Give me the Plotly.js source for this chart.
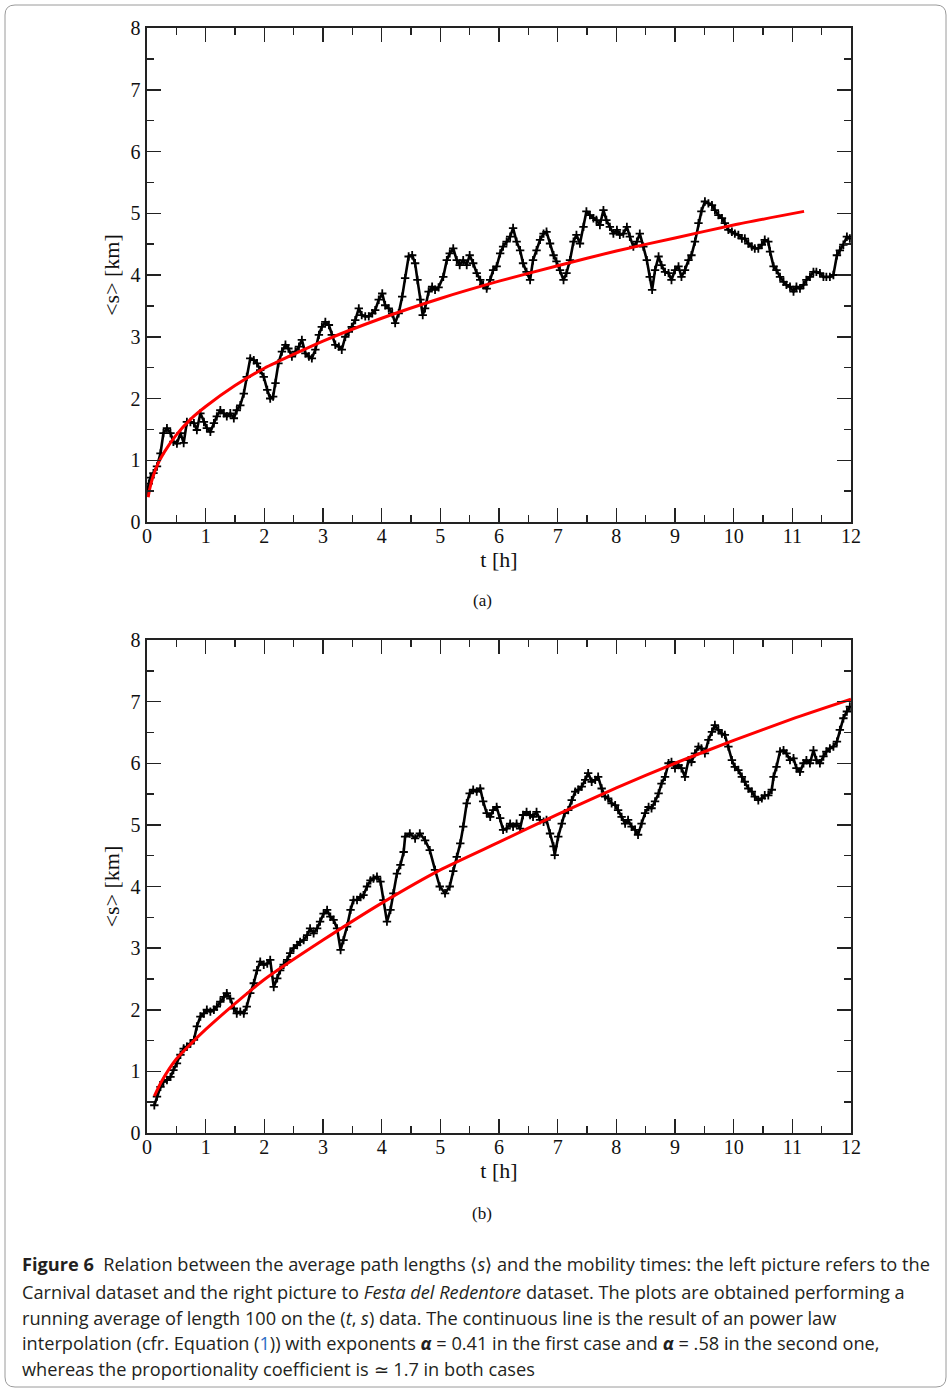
<!DOCTYPE html>
<html>
<head>
<meta charset="utf-8">
<script src="https://cdn.plot.ly/plotly-3.0.1.min.js"></script>
<style>
  html, body { margin: 0; padding: 0; background: #ffffff; }
  #chart { width: 952px; height: 1392px; }
</style>
</head>
<body>
<div id="chart"></div>
<script>
// ---------- Data ----------
// Panel (a): Carnival dataset, running average <s> vs t
const tA = [0.00,0.03,0.06,0.11,0.17,0.23,0.28,0.34,0.40,0.45,0.51,0.57,0.625,0.68,0.74,0.80,0.85,0.91,0.97,1.02,1.08,1.14,1.19,1.25,1.31,1.36,1.42,1.48,1.53,1.59,1.65,1.70,1.76,1.82,1.875,1.93,1.99,2.05,2.10,2.15,2.19,2.24,2.30,2.36,2.41,2.47,2.53,2.59,2.64,2.70,2.76,2.81,2.87,2.93,2.98,3.04,3.10,3.15,3.21,3.27,3.32,3.38,3.44,3.49,3.55,3.61,3.66,3.72,3.78,3.84,3.89,3.95,4.01,4.06,4.12,4.18,4.23,4.29,4.35,4.40,4.46,4.52,4.57,4.61,4.66,4.70,4.74,4.80,4.86,4.91,4.97,5.05,5.11,5.16,5.22,5.28,5.33,5.39,5.45,5.50,5.56,5.62,5.68,5.73,5.79,5.85,5.90,5.96,6.02,6.07,6.13,6.19,6.24,6.30,6.36,6.41,6.47,6.53,6.58,6.64,6.70,6.76,6.81,6.87,6.93,6.98,7.04,7.10,7.15,7.21,7.27,7.32,7.38,7.44,7.49,7.55,7.61,7.66,7.72,7.78,7.83,7.89,7.95,8.01,8.06,8.12,8.18,8.23,8.29,8.35,8.40,8.46,8.52,8.57,8.61,8.66,8.72,8.77,8.83,8.89,8.94,9.00,9.06,9.11,9.17,9.23,9.28,9.34,9.40,9.45,9.51,9.57,9.63,9.68,9.74,9.80,9.85,9.91,9.97,10.02,10.08,10.14,10.19,10.25,10.31,10.36,10.42,10.48,10.53,10.59,10.62,10.68,10.73,10.79,10.85,10.90,10.96,11.02,11.07,11.13,11.19,11.24,11.30,11.36,11.41,11.47,11.53,11.58,11.64,11.70,11.76,11.81,11.87,11.93,11.98];
const sA = [0.50,0.62,0.72,0.79,0.90,1.11,1.44,1.52,1.44,1.30,1.27,1.44,1.28,1.62,1.62,1.60,1.49,1.76,1.62,1.52,1.46,1.60,1.71,1.81,1.76,1.71,1.76,1.68,1.81,1.89,2.08,2.35,2.65,2.62,2.57,2.46,2.35,2.14,2.00,2.03,2.25,2.57,2.76,2.87,2.81,2.68,2.76,2.84,2.95,2.73,2.68,2.65,2.79,3.03,3.16,3.24,3.19,3.03,2.87,2.84,2.79,3.00,3.08,3.16,3.27,3.46,3.35,3.33,3.33,3.38,3.43,3.60,3.70,3.51,3.46,3.38,3.22,3.38,3.65,3.95,4.30,4.32,4.19,3.92,3.60,3.35,3.46,3.73,3.81,3.76,3.80,3.97,4.24,4.35,4.43,4.24,4.16,4.24,4.16,4.32,4.19,4.03,3.92,3.84,3.78,3.92,4.08,4.14,4.35,4.46,4.54,4.62,4.76,4.54,4.40,4.19,4.05,3.92,4.24,4.40,4.57,4.67,4.70,4.51,4.32,4.22,4.08,3.92,4.03,4.24,4.54,4.65,4.51,4.78,5.03,4.97,4.92,4.89,4.81,5.05,4.89,4.78,4.67,4.73,4.65,4.67,4.78,4.62,4.46,4.54,4.67,4.46,4.24,3.97,3.76,4.08,4.30,4.16,4.05,4.03,3.92,4.08,4.14,3.97,4.08,4.24,4.32,4.54,4.84,5.03,5.19,5.16,5.13,5.05,4.97,4.92,4.84,4.73,4.70,4.67,4.65,4.59,4.59,4.51,4.46,4.43,4.43,4.49,4.57,4.54,4.38,4.14,4.08,3.97,3.89,3.84,3.81,3.73,3.81,3.78,3.84,3.92,3.97,4.05,4.05,4.03,3.97,3.97,3.97,4.00,4.32,4.40,4.49,4.62,4.59];
// Panel (a): power-law fit (red)
const tFitA = [0.02,0.05,0.1,0.2,0.3,0.5,0.75,1,1.5,2,3,4,5,6,7,8,9,10,11.2];
const sFitA = [0.40,0.55,0.73,0.97,1.14,1.41,1.67,1.87,2.21,2.49,2.93,3.30,3.62,3.90,4.15,4.39,4.60,4.81,5.03];

// Panel (b): Festa del Redentore dataset
const tB = [0.125,0.17,0.23,0.28,0.34,0.40,0.45,0.51,0.57,0.625,0.68,0.74,0.80,0.85,0.91,0.97,1.02,1.08,1.14,1.19,1.25,1.31,1.36,1.42,1.48,1.53,1.59,1.65,1.70,1.76,1.82,1.875,1.93,1.99,2.05,2.10,2.16,2.22,2.27,2.33,2.39,2.44,2.50,2.56,2.61,2.67,2.73,2.78,2.84,2.90,2.95,3.01,3.07,3.125,3.18,3.24,3.30,3.35,3.41,3.47,3.52,3.58,3.64,3.69,3.75,3.81,3.86,3.92,3.98,4.03,4.09,4.15,4.20,4.26,4.32,4.375,4.40,4.48,4.57,4.65,4.74,4.82,4.91,4.99,5.08,5.16,5.22,5.28,5.34,5.39,5.45,5.50,5.56,5.62,5.68,5.73,5.79,5.85,5.90,5.96,6.02,6.07,6.13,6.19,6.24,6.30,6.36,6.41,6.47,6.53,6.58,6.64,6.70,6.76,6.81,6.87,6.93,6.95,7.01,7.07,7.12,7.18,7.24,7.30,7.35,7.41,7.47,7.52,7.58,7.64,7.69,7.75,7.81,7.86,7.92,7.98,8.03,8.09,8.15,8.20,8.26,8.32,8.37,8.43,8.49,8.55,8.60,8.66,8.72,8.77,8.83,8.89,8.94,9.00,9.06,9.11,9.17,9.23,9.28,9.34,9.40,9.45,9.51,9.57,9.63,9.68,9.74,9.80,9.85,9.91,9.97,10.02,10.08,10.14,10.19,10.25,10.31,10.36,10.42,10.48,10.53,10.59,10.65,10.68,10.73,10.79,10.85,10.90,10.96,11.02,11.07,11.13,11.19,11.24,11.30,11.36,11.41,11.47,11.53,11.58,11.64,11.70,11.76,11.81,11.87,11.93,11.98];
const sB = [0.45,0.59,0.75,0.83,0.86,0.91,1.02,1.13,1.27,1.37,1.40,1.45,1.51,1.73,1.89,1.94,2.00,1.97,2.00,2.05,2.13,2.21,2.27,2.18,2.02,1.94,1.97,1.94,2.05,2.27,2.43,2.64,2.78,2.73,2.75,2.81,2.37,2.51,2.64,2.73,2.81,2.92,3.00,3.05,3.10,3.13,3.21,3.32,3.24,3.32,3.43,3.56,3.62,3.51,3.46,3.32,2.97,3.13,3.35,3.62,3.78,3.78,3.83,3.86,4.00,4.10,4.13,4.16,4.08,3.78,3.43,3.62,3.89,4.21,4.35,4.56,4.81,4.86,4.78,4.86,4.75,4.59,4.27,4.00,3.89,4.00,4.25,4.48,4.70,4.97,5.35,5.51,5.57,5.54,5.59,5.38,5.19,5.13,5.24,5.29,5.11,4.92,4.94,5.02,4.97,5.02,4.94,5.16,5.21,5.16,5.13,5.21,5.08,5.05,5.08,4.86,4.65,4.51,4.81,5.02,5.19,5.24,5.40,5.54,5.57,5.62,5.73,5.84,5.70,5.73,5.78,5.59,5.46,5.43,5.35,5.32,5.24,5.13,5.02,5.08,4.97,4.92,4.84,5.02,5.19,5.29,5.27,5.38,5.51,5.67,5.78,6.00,6.02,5.92,5.97,5.92,5.78,6.05,6.02,6.16,6.27,6.24,6.16,6.38,6.51,6.62,6.54,6.48,6.46,6.27,6.05,5.94,5.89,5.78,5.70,5.59,5.54,5.46,5.40,5.43,5.48,5.48,5.57,5.78,5.94,6.19,6.21,6.16,6.05,6.08,5.92,5.86,6.00,6.05,6.00,6.21,6.05,6.00,6.11,6.19,6.24,6.27,6.35,6.54,6.73,6.84,6.92];
// Panel (b): power-law fit (red)
const tFitB = [0.125,0.25,0.5,0.75,1,1.5,2,3,4,5,6,7,8,9,10,11,12];
const sFitB = [0.60,0.84,1.20,1.45,1.68,2.10,2.49,3.13,3.73,4.27,4.72,5.17,5.60,6.00,6.37,6.72,7.04];

const xTickVals = [0,1,2,3,4,5,6,7,8,9,10,11,12];
const yTickVals = [0,1,2,3,4,5,6,7,8];
const xTitle = 't [h]';
const yTitle = '&lt;s&gt; [km]';
const panelLabels = ['(a)', '(b)'];
const captionLines = [
  '<b>Figure 6</b>  Relation between the average path lengths ⟨<i>s</i>⟩ and the mobility times: the left picture refers to the',
  'Carnival dataset and the right picture to <i>Festa del Redentore</i> dataset. The plots are obtained performing a',
  'running average of length 100 on the (<i>t</i>, <i>s</i>) data. The continuous line is the result of an power law',
  'interpolation (cfr. Equation (<span style="color:#2b6cc4">1</span>)) with exponents <b><i>α</i></b> = 0.41 in the first case and <b><i>α</i></b> = .58 in the second one,',
  'whereas the proportionality coefficient is ≃ 1.7 in both cases'
];

// ---------- Layout helpers ----------
const W = 952, H = 1392;
const px = v => v / W;
const py = v => 1 - v / H;

const serif = 'Liberation Serif, Times New Roman, serif';

function xAxis(anchor) {
  return {
    anchor: anchor,
    domain: [px(147), px(851)],
    range: [0, 12],
    tickvals: xTickVals,
    ticks: 'inside', ticklen: 14, tickwidth: 1.5, tickcolor: '#222',
    minor: { dtick: 0.5, ticks: 'inside', ticklen: 7, tickwidth: 1.5, tickcolor: '#222' },
    showline: true, linecolor: '#222', linewidth: 1.6, mirror: 'ticks',
    showgrid: false, zeroline: false,
    ticklabelstandoff: -5,
    tickfont: { family: serif, size: 20, color: '#111' },
    title: { text: xTitle, font: { family: serif, size: 22, color: '#111' }, standoff: 0 },
    fixedrange: true
  };
}
function yAxis(anchor, top, bottom) {
  return {
    anchor: anchor,
    domain: [py(bottom), py(top)],
    range: [0, 8],
    tickvals: yTickVals,
    ticks: 'inside', ticklen: 14, tickwidth: 1.5, tickcolor: '#222',
    minor: { dtick: 0.5, ticks: 'inside', ticklen: 7, tickwidth: 1.5, tickcolor: '#222' },
    showline: true, linecolor: '#222', linewidth: 1.6, mirror: 'ticks',
    showgrid: false, zeroline: false,
    ticklabelstandoff: 1,
    tickfont: { family: serif, size: 20, color: '#111' },
    title: { text: yTitle, font: { family: serif, size: 22, color: '#111' }, standoff: 5 },
    fixedrange: true
  };
}

const dataMarker = { symbol: 'cross-thin', size: 6, color: '#000', line: { color: '#000', width: 1.8 } };
const dataLine = { color: '#000', width: 2.6 };
const fitLine = { color: '#ff0000', width: 3, shape: 'spline', smoothing: 0.6 };

const traces = [
  { x: tA, y: sA, xaxis: 'x', yaxis: 'y', type: 'scatter', mode: 'lines+markers',
    line: dataLine, marker: dataMarker, name: 'data (a)' },
  { x: tFitA, y: sFitA, xaxis: 'x', yaxis: 'y', type: 'scatter', mode: 'lines',
    line: fitLine, name: 'fit (a)' },
  { x: tB, y: sB, xaxis: 'x2', yaxis: 'y2', type: 'scatter', mode: 'lines+markers',
    line: dataLine, marker: dataMarker, name: 'data (b)' },
  { x: tFitB, y: sFitB, xaxis: 'x2', yaxis: 'y2', type: 'scatter', mode: 'lines',
    line: fitLine, name: 'fit (b)' }
];

const annotations = [
  { text: panelLabels[0], xref: 'paper', yref: 'paper', x: px(482), y: py(601),
    xanchor: 'center', yanchor: 'middle', showarrow: false,
    font: { family: serif, size: 17, color: '#111' } },
  { text: panelLabels[1], xref: 'paper', yref: 'paper', x: px(482), y: py(1213),
    xanchor: 'center', yanchor: 'middle', showarrow: false,
    font: { family: serif, size: 17, color: '#111' } }
];
const captionY = [1264, 1292, 1318, 1343, 1369];
captionLines.forEach((t, i) => {
  annotations.push({
    text: t, xref: 'paper', yref: 'paper', x: px(20), y: py(captionY[i]),
    xanchor: 'left', yanchor: 'middle', align: 'left', showarrow: false,
    font: { family: 'Open Sans, Noto Sans, sans-serif', size: 18.2, color: '#231f20' }
  });
});

// rounded border of the figure box
const x0 = px(5), x1 = px(946), y0 = py(5), y1 = py(1387);
const rx = px(10), ry = 10 / H;
const borderPath = `M ${x0 + rx},${y0} L ${x1 - rx},${y0} Q ${x1},${y0} ${x1},${y0 - ry} ` +
  `L ${x1},${y1 + ry} Q ${x1},${y1} ${x1 - rx},${y1} L ${x0 + rx},${y1} Q ${x0},${y1} ${x0},${y1 + ry} ` +
  `L ${x0},${y0 - ry} Q ${x0},${y0} ${x0 + rx},${y0} Z`;

const layout = {
  width: W, height: H,
  margin: { l: 0, r: 0, t: 0, b: 0 },
  paper_bgcolor: '#ffffff', plot_bgcolor: '#ffffff',
  showlegend: false,
  xaxis: xAxis('y'),
  yaxis: yAxis('x', 28, 522),
  xaxis2: xAxis('y2'),
  yaxis2: yAxis('x2', 640, 1133),
  annotations: annotations,
  shapes: [{ type: 'path', xref: 'paper', yref: 'paper', path: borderPath,
             line: { color: '#9a9a9a', width: 1 }, fillcolor: 'rgba(0,0,0,0)', layer: 'below' }]
};

Plotly.newPlot('chart', traces, layout, { staticPlot: true, displayModeBar: false });
</script>
</body>
</html>
